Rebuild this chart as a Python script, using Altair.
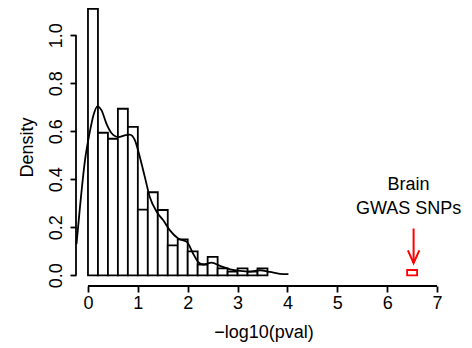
import altair as alt
import pandas as pd

FONT = "Liberation Sans"

# Histogram bins (start, end) and densities
bin_start = [0.0, 0.2, 0.4, 0.6, 0.8, 1.0, 1.2, 1.4, 1.6, 1.8, 2.0, 2.2, 2.4, 2.6, 2.8, 3.0, 3.2, 3.4]
bin_density = [1.11, 0.594, 0.569, 0.694, 0.618, 0.274, 0.346, 0.272, 0.125, 0.15,
               0.10, 0.045, 0.077, 0.029, 0.015, 0.029, 0.015, 0.029]

# Kernel density curve
dens_x = [-0.23, -0.16, -0.06, 0.03, 0.11, 0.19, 0.27, 0.37, 0.47, 0.61, 0.74, 0.84, 0.94,
          1.04, 1.14, 1.24, 1.38, 1.51, 1.64, 1.81, 1.98, 2.11, 2.21, 2.31, 2.48, 2.65,
          2.85, 3.05, 3.25, 3.45, 3.65, 3.85, 4.02]
dens_y = [0.13, 0.285, 0.479, 0.59, 0.667, 0.704, 0.688, 0.632, 0.593, 0.576, 0.583, 0.586,
          0.563, 0.493, 0.41, 0.326, 0.264, 0.229, 0.188, 0.153, 0.14, 0.09, 0.055, 0.045,
          0.053, 0.039, 0.025, 0.018, 0.015, 0.021, 0.014, 0.006, 0.005]

# Brain GWAS SNPs bin
snp_start = [6.4]
snp_end = [6.6]
snp_density = [0.022]

# Arrow and label
arrow_x = [6.53]
arrow_top = [0.195]
arrow_tip = [0.051]
label_x = [6.43, 6.43]
label_y = [0.375, 0.278]
label_text = ["Brain", "GWAS SNPs"]

x_ticks = [0, 1, 2, 3, 4, 5, 6, 7]
y_ticks = [0.0, 0.2, 0.4, 0.6, 0.8, 1.0]

X_DOM = [-0.24, 7.28]
Y_DOM = [-0.0446, 1.1137]

xs = alt.Scale(domain=X_DOM, nice=False, zero=False)
ys = alt.Scale(domain=Y_DOM, nice=False, zero=False)

x_axis = alt.Axis(
    values=x_ticks, domain=False, grid=False, tickSize=6, tickWidth=1.8, tickColor="black",
    labelFont=FONT, labelFontSize=18, labelColor="black", labelPadding=2,
    title="−log10(pval)", titleFont=FONT, titleFontSize=18, titleFontWeight="normal",
    titleColor="black", titlePadding=11)
y_axis = alt.Axis(
    values=y_ticks, format=".1f", domain=False, grid=False, tickSize=6, tickWidth=1.8,
    tickColor="black", labelFont=FONT, labelFontSize=18, labelColor="black",
    labelAngle=270, labelAlign="center", labelBaseline="bottom", labelPadding=5,
    title="Density", titleFont=FONT, titleFontSize=18, titleFontWeight="normal",
    titleColor="black", titlePadding=11)


def X(f):
    return alt.X(f, scale=xs, axis=x_axis)


def Y(f):
    return alt.Y(f, scale=ys, axis=y_axis)


hist_df = pd.DataFrame({
    "x": bin_start,
    "x2": [b + 0.2 for b in bin_start],
    "y": [0.0] * len(bin_start),
    "y2": bin_density,
})

hist = alt.Chart(hist_df).mark_rect(fill="white", stroke="black", strokeWidth=1.8).encode(
    x=X("x:Q"), x2="x2:Q", y=Y("y:Q"), y2="y2:Q")

dens = alt.Chart(pd.DataFrame({"x": dens_x, "y": dens_y})).mark_line(
    color="black", strokeWidth=1.8, interpolate="monotone").encode(
    x=X("x:Q"), y=Y("y:Q"))

xaxis_line = alt.Chart(pd.DataFrame({"x": [x_ticks[0]], "x2": [x_ticks[-1]], "y": [Y_DOM[0]]})).mark_rule(
    color="black", strokeWidth=1.8).encode(x=X("x:Q"), x2="x2:Q", y=Y("y:Q"))

yaxis_line = alt.Chart(pd.DataFrame({"x": [X_DOM[0]], "y": [y_ticks[0]], "y2": [y_ticks[-1]]})).mark_rule(
    color="black", strokeWidth=1.8).encode(x=X("x:Q"), y=Y("y:Q"), y2="y2:Q")

snp = alt.Chart(pd.DataFrame({"x": snp_start, "x2": snp_end, "y": [0.0], "y2": snp_density})).mark_rect(
    fill="white", fillOpacity=0, stroke="#FF0000", strokeWidth=1.8).encode(
    x=X("x:Q"), x2="x2:Q", y=Y("y:Q"), y2="y2:Q")

arrow_df = pd.DataFrame({"x": arrow_x, "y": arrow_top, "y2": arrow_tip})
shaft = alt.Chart(arrow_df).mark_rule(color="#FF0000", strokeWidth=2).encode(
    x=X("x:Q"), y=Y("y:Q"), y2="y2:Q")

head = alt.Chart(arrow_df).mark_point(
    shape="M-0.9,-2L0,0L0.9,-2", size=161, filled=False, color="#FF0000",
    strokeWidth=2, opacity=1, strokeJoin="miter").encode(
    x=X("x:Q"), y=Y("y2:Q"))

labels = alt.Chart(pd.DataFrame({"x": label_x, "y": label_y, "t": label_text})).mark_text(
    font=FONT, fontSize=18, color="black", align="center", baseline="middle").encode(
    x=X("x:Q"), y=Y("y:Q"), text="t:N")

chart = alt.layer(hist, dens, xaxis_line, yaxis_line, snp, shaft, head, labels).properties(
    width=375, height=278,
    background="white",
    autosize=alt.AutoSizeParams(type="none"),
    padding={"left": 68, "top": 0, "right": 13, "bottom": 62},
).configure_view(stroke=None)

chart.save("out.html", embed_options={"renderer": "svg", "actions": False})
